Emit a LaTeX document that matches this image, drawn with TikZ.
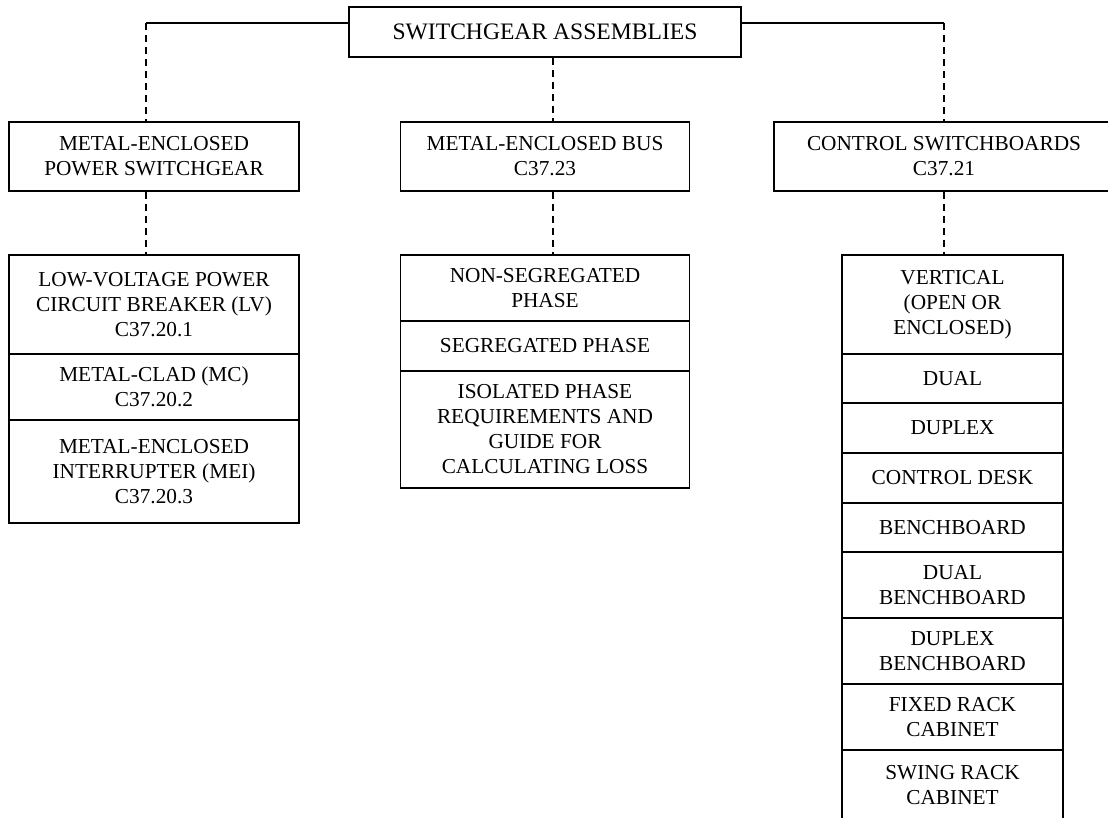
\documentclass[tikz,border=0pt]{standalone}
\usepackage{fontspec}
\setmainfont{Liberation Serif}
\begin{document}
\begin{tikzpicture}[x=1pt,y=-1pt,
  box/.style={draw, line width=1.5pt, align=center, inner sep=0pt,
    font=\fontsize{21.3}{25}\selectfont},
  wh/.style 2 args={minimum width=#1pt, minimum height=#2pt},
  link/.style={line width=1.5pt, dash pattern=on 7pt off 5pt},
  bar/.style={line width=1.5pt}]
\useasboundingbox (0,0) rectangle (1108,817);
\clip (0,0) rectangle (1108,817);

% top
\node[box, wh={392}{50}, font=\fontsize{23.6}{27}\selectfont] (top) at (545,32) {SWITCHGEAR ASSEMBLIES};

% second row
\node[box, wh={290}{69}] (pwr) at (154,156.5) {METAL-ENCLOSED\\POWER SWITCHGEAR};
\node[box, wh={289}{69}] (bus) at (545,156.5) {METAL-ENCLOSED BUS\\C37.23};
\node[box, wh={340}{69}] (csw) at (944,156.5) {CONTROL SWITCHBOARDS\\C37.21};

% left stack
\node[box, wh={290}{99}] (lv) at (154,304.5) {LOW-VOLTAGE POWER\\CIRCUIT BREAKER (LV)\\C37.20.1};
\node[box, wh={290}{66}] (mcl) at (154,387) {METAL-CLAD (MC)\\C37.20.2};
\node[box, wh={290}{103}] (mei) at (154,471.5) {METAL-ENCLOSED\\INTERRUPTER (MEI)\\C37.20.3};

% middle stack
\node[box, wh={289}{66}] (nsp) at (545,288) {NON-SEGREGATED\\PHASE};
\node[box, wh={289}{50}] (sp) at (545,346) {SEGREGATED PHASE};
\node[box, wh={289}{117}] (iso) at (545,429.5) {ISOLATED PHASE\\REQUIREMENTS AND\\GUIDE FOR\\CALCULATING LOSS};

% right stack
\node[box, wh={221}{99}] (vert) at (952.5,304.5) {VERTICAL\\(OPEN OR\\ENCLOSED)};
\node[box, wh={221}{49}] (dual) at (952.5,378.5) {DUAL};
\node[box, wh={221}{50}] (duplex) at (952.5,428) {DUPLEX};
\node[box, wh={221}{50}] (desk) at (952.5,478) {CONTROL DESK};
\node[box, wh={221}{49}] (bench) at (952.5,527.5) {BENCHBOARD};
\node[box, wh={221}{66}] (dbench) at (952.5,585) {DUAL\\BENCHBOARD};
\node[box, wh={221}{66}] (xbench) at (952.5,651) {DUPLEX\\BENCHBOARD};
\node[box, wh={221}{66}] (fixed) at (952.5,717) {FIXED RACK\\CABINET};
\node[box, wh={221}{70}] (swing) at (952.5,785) {SWING RACK\\CABINET};

% connectors
\coordinate (lc) at (146,23);
\coordinate (rc) at (944,23);
\coordinate (mc) at (553,0);
\draw[bar] (top.west |- lc) -- (lc);
\draw[link] (lc) -- (lc |- pwr.north);
\draw[bar] (top.east |- rc) -- (rc);
\draw[link] (rc) -- (rc |- csw.north);
\draw[link] (mc |- top.south) -- (mc |- bus.north);
\draw[link] (lc |- pwr.south) -- (lc |- lv.north);
\draw[link] (mc |- bus.south) -- (mc |- nsp.north);
\draw[link] (rc |- csw.south) -- (rc |- vert.north);
\end{tikzpicture}
\end{document}
